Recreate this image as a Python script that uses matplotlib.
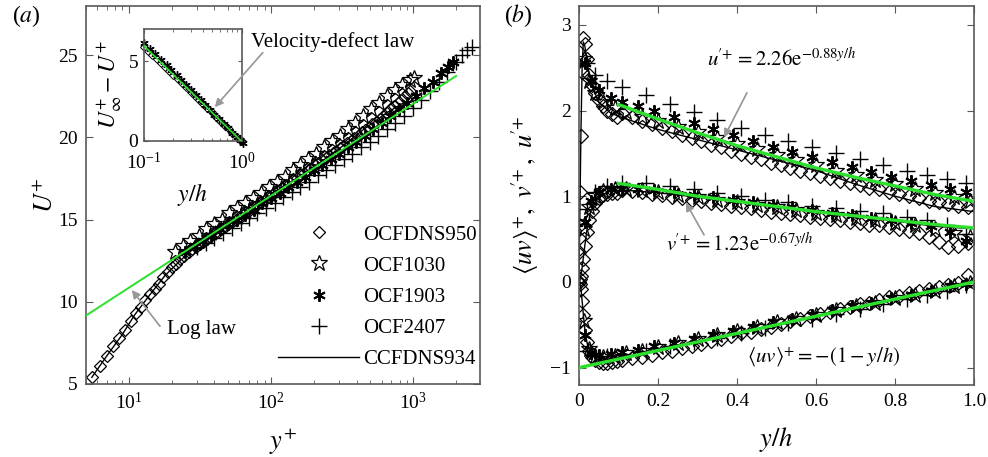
import numpy as np
import matplotlib.pyplot as plt
from matplotlib.ticker import NullFormatter

plt.rcParams['font.family'] = ['Liberation Serif', 'DejaVu Serif']
plt.rcParams['mathtext.fontset'] = 'stix'
plt.rcParams['axes.linewidth'] = 1.2
plt.rcParams['axes.edgecolor'] = '0.35'
plt.rcParams['xtick.direction'] = 'in'
plt.rcParams['ytick.direction'] = 'in'
plt.rcParams['xtick.top'] = True
plt.rcParams['ytick.right'] = True
plt.rcParams['xtick.color'] = '0.35'
plt.rcParams['ytick.color'] = '0.35'
plt.rcParams['xtick.labelcolor'] = 'k'
plt.rcParams['ytick.labelcolor'] = 'k'

GREEN = '#2ee02e'

# ---------------- (a) mean velocity U+ vs y+ ----------------
dns950_yp = [5.5, 6.3, 7.0, 7.8, 8.6, 9.4, 10.3, 11.2, 12.1, 13.1, 14.1, 15.2, 16.3, 17.5,
             18.8, 20.1, 21.5, 23, 24.6, 26.3,
             28, 29.7, 31.5, 33.4, 35.4, 37.5, 39.8, 42.2, 44.7, 47.4, 50.2, 53.2, 56.4,
             59.8, 63.4, 67.2, 71.2, 75.5, 80, 85, 90, 95, 101, 107, 113, 120, 127, 135,
             143, 152, 161, 170, 181, 191, 203, 215, 228, 242, 256, 272, 288, 305, 323,
             343, 363, 385, 408, 433, 459, 486, 515, 546, 579, 614, 651, 690, 731, 775,
             822, 871, 923, 950]
dns950_U = [5.4, 6.1, 6.7, 7.3, 7.8, 8.3, 8.8, 9.3, 9.7, 10.1, 10.5, 10.8, 11.1, 11.5,
            11.8, 12.1, 12.3, 12.6, 12.8, 13.0,
            13.2, 13.35, 13.5, 13.65, 13.8, 13.95, 14.1, 14.25, 14.4, 14.55, 14.7, 14.85,
            15.0, 15.15, 15.3, 15.45, 15.6, 15.75, 15.9, 16.05, 16.2, 16.35, 16.5, 16.65,
            16.8, 16.95, 17.1, 17.25, 17.4, 17.55, 17.7, 17.85, 18.0, 18.15, 18.3, 18.45,
            18.6, 18.75, 18.9, 19.05, 19.2, 19.35, 19.5, 19.65, 19.8, 19.95, 20.1, 20.3,
            20.45, 20.6, 20.8, 20.95, 21.15, 21.3, 21.5, 21.7, 21.9, 22.1, 22.3, 22.5,
            22.7, 22.8]

ocf1030_yp = [21, 24, 27, 31, 35, 40, 45, 51, 58, 66, 75, 85, 97, 110, 125, 142, 161, 183,
              208, 236, 268, 304, 345, 392, 445, 505, 573, 650, 738, 838, 950, 1010]
ocf1030_U = [13.0, 13.4, 13.7, 14.0, 14.4, 14.7, 15.0, 15.4, 15.7, 16.0, 16.3, 16.6, 17.0,
             17.3, 17.6, 18.0, 18.3, 18.7, 19.0, 19.4, 19.8, 20.1, 20.5, 20.9, 21.3, 21.7,
             22.1, 22.5, 22.9, 23.2, 23.5, 23.6]

ocf1903_yp = [25, 29, 33, 38, 44, 50, 58, 66, 76, 87, 100, 115, 132, 151, 174, 199, 229,
              263, 302, 346, 397, 456, 523, 600, 689, 790, 907, 1040, 1194, 1370, 1572,
              1750, 1900]
ocf1903_U = [13.0, 13.4, 13.7, 14.0, 14.4, 14.7, 15.0, 15.3, 15.6, 16.0, 16.3, 16.6, 17.0,
             17.3, 17.6, 18.0, 18.3, 18.7, 19.0, 19.4, 19.7, 20.1, 20.5, 20.9, 21.3, 21.7,
             22.1, 22.5, 23.0, 23.4, 23.9, 24.3, 24.6]

ocf2407_yp = [30, 35, 40, 46, 53, 61, 70, 80, 92, 106, 122, 140, 161, 185, 213, 245, 282,
              324, 372, 428, 492, 566, 651, 748, 860, 990, 1138, 1308, 1505, 1730, 1990,
              2200, 2400, 2600]
ocf2407_U = [13.3, 13.6, 13.9, 14.2, 14.5, 14.8, 15.1, 15.4, 15.7, 16.0, 16.4, 16.7, 17.0,
             17.3, 17.7, 18.0, 18.3, 18.7, 19.0, 19.4, 19.7, 20.1, 20.5, 20.9, 21.3, 21.8,
             22.3, 22.8, 23.4, 24.0, 24.6, 25.0, 25.3, 25.5]

ccf934_yp = [5.5, 7, 9, 11, 14, 18, 23, 30, 40, 55, 75, 100, 150, 200, 300, 450, 650, 934]
ccf934_U = [5.4, 6.7, 8.0, 9.2, 10.4, 11.6, 12.5, 13.4, 14.2, 15.0, 15.8, 16.5, 17.5, 18.2,
            19.3, 20.5, 21.5, 22.3]

loglaw_yp = [5.0, 2000]
loglaw_U = [9.16, 23.74]

# inset: velocity-defect
inset_dns_yh = [0.1, 0.11, 0.12, 0.135, 0.15, 0.165, 0.18, 0.2, 0.22, 0.245, 0.27, 0.3,
                0.33, 0.365, 0.4, 0.44, 0.49, 0.54, 0.6, 0.66, 0.73, 0.8, 0.88, 0.96, 1.0]
inset_dns_def = [5.9, 5.65, 5.4, 5.1, 4.85, 4.6, 4.35, 4.1, 3.85, 3.6, 3.35, 3.05, 2.8,
                 2.55, 2.3, 2.05, 1.8, 1.5, 1.25, 1.0, 0.75, 0.5, 0.25, 0.05, 0.0]
inset_exp_yh = [0.1, 0.115, 0.13, 0.15, 0.17, 0.19, 0.215, 0.24, 0.27, 0.3, 0.34, 0.38,
                0.42, 0.47, 0.52, 0.58, 0.65, 0.72, 0.8, 0.88, 0.95, 1.02]
inset_exp_def = [6.1, 5.75, 5.45, 5.05, 4.75, 4.45, 4.1, 3.8, 3.5, 3.2, 2.85, 2.55, 2.25,
                 1.95, 1.65, 1.35, 1.05, 0.8, 0.5, 0.25, 0.05, -0.1]
defect_yh = [0.1, 1.0]
defect_law = [5.95, -0.05]

# ---------------- (b) turbulence intensities ----------------
dns_yh = [0.001, 0.003, 0.005, 0.008, 0.011, 0.015, 0.02, 0.026, 0.033, 0.041, 0.05, 0.06,
          0.071, 0.083, 0.096, 0.11, 0.135, 0.16, 0.185, 0.21, 0.235, 0.26, 0.285, 0.31,
          0.335, 0.36, 0.385, 0.41, 0.435, 0.46, 0.485, 0.51, 0.535, 0.56, 0.585, 0.61,
          0.635, 0.66, 0.685, 0.71, 0.735, 0.76, 0.785, 0.81, 0.835, 0.86, 0.885, 0.91,
          0.935, 0.96, 0.985]
dns_u = [0.35, 1.05, 1.7, 2.45, 2.85, 2.78, 2.6, 2.42, 2.3, 2.2, 2.12, 2.05, 2.0, 1.96,
         1.92, 1.97, 1.92, 1.88, 1.84, 1.80, 1.76, 1.72, 1.68, 1.64, 1.60, 1.57, 1.53, 1.49,
         1.46, 1.43, 1.39, 1.36, 1.33, 1.30, 1.27, 1.24, 1.21, 1.18, 1.16, 1.13, 1.10, 1.08,
         1.05, 1.03, 1.00, 0.98, 0.95, 0.93, 0.91, 0.89, 0.88]
dns_v = [0.0, 0.03, 0.07, 0.16, 0.27, 0.42, 0.58, 0.72, 0.83, 0.92, 0.98, 1.01, 1.03, 1.04,
         1.04, 1.07, 1.06, 1.05, 1.03, 1.01, 0.99, 0.98, 0.96, 0.94, 0.92, 0.91, 0.89, 0.87,
         0.86, 0.84, 0.82, 0.81, 0.79, 0.78, 0.76, 0.75, 0.73, 0.72, 0.70, 0.69, 0.67, 0.66,
         0.64, 0.62, 0.60, 0.57, 0.53, 0.47, 0.41, 0.42, 0.46]
dns_uv = [0.0, -0.02, -0.08, -0.22, -0.38, -0.56, -0.70, -0.80, -0.87, -0.91, -0.93, -0.94,
          -0.94, -0.93, -0.92, -0.91, -0.89, -0.87, -0.85, -0.82, -0.80, -0.77, -0.75, -0.72,
          -0.69, -0.66, -0.63, -0.60, -0.58, -0.55, -0.52, -0.49, -0.46, -0.43, -0.40, -0.37,
          -0.35, -0.32, -0.29, -0.26, -0.24, -0.21, -0.18, -0.16, -0.13, -0.11, -0.08, -0.06,
          -0.04, -0.01, 0.08]

o1030_yh = [0.012, 0.025, 0.04, 0.06, 0.09, 0.12, 0.16, 0.2, 0.25, 0.3, 0.35, 0.4, 0.45,
            0.5, 0.55, 0.6, 0.65, 0.7, 0.75, 0.8, 0.85, 0.9, 0.95, 0.99]
o1030_u = [2.6, 2.35, 2.2, 2.1, 2.03, 1.98, 1.93, 1.88, 1.81, 1.75, 1.68, 1.61, 1.55, 1.48,
           1.42, 1.36, 1.30, 1.25, 1.19, 1.14, 1.09, 1.04, 0.99, 0.95]
o1030_v = [0.62, 0.88, 1.0, 1.06, 1.08, 1.08, 1.07, 1.05, 1.02, 0.99, 0.96, 0.93, 0.90, 0.87,
           0.84, 0.81, 0.78, 0.75, 0.72, 0.69, 0.66, 0.62, 0.57, 0.52]
o1030_uv = [-0.45, -0.78, -0.87, -0.88, -0.86, -0.83, -0.80, -0.76, -0.71, -0.67, -0.62,
            -0.57, -0.52, -0.47, -0.43, -0.38, -0.33, -0.28, -0.24, -0.19, -0.15, -0.10,
            -0.05, -0.01]

o1903_yh = [0.015, 0.03, 0.05, 0.08, 0.11, 0.15, 0.19, 0.24, 0.29, 0.34, 0.39, 0.44, 0.49,
            0.54, 0.59, 0.64, 0.69, 0.74, 0.79, 0.84, 0.89, 0.94, 0.98]
o1903_u = [2.55, 2.35, 2.24, 2.15, 2.10, 2.05, 2.00, 1.93, 1.86, 1.79, 1.72, 1.65, 1.58,
           1.52, 1.46, 1.40, 1.34, 1.28, 1.23, 1.18, 1.13, 1.08, 1.05]
o1903_v = [0.7, 0.95, 1.05, 1.08, 1.09, 1.09, 1.07, 1.05, 1.02, 0.99, 0.96, 0.93, 0.90, 0.87,
           0.84, 0.81, 0.78, 0.75, 0.72, 0.69, 0.65, 0.58, 0.48]
o1903_uv = [-0.62, -0.83, -0.85, -0.84, -0.82, -0.79, -0.75, -0.71, -0.66, -0.62, -0.57,
            -0.52, -0.47, -0.43, -0.38, -0.33, -0.28, -0.24, -0.19, -0.15, -0.10, -0.05, -0.02]

o2407_yh = [0.02, 0.04, 0.07, 0.11, 0.17, 0.23, 0.29, 0.35, 0.41, 0.47, 0.53, 0.59, 0.65,
            0.71, 0.77, 0.83, 0.88, 0.93, 0.98]
o2407_u = [2.55, 2.42, 2.34, 2.28, 2.18, 2.08, 1.98, 1.89, 1.80, 1.72, 1.64, 1.57, 1.50,
           1.43, 1.37, 1.30, 1.25, 1.20, 1.16]
o2407_v = [0.85, 1.05, 1.12, 1.16, 1.15, 1.12, 1.08, 1.04, 1.00, 0.96, 0.93, 0.89, 0.86,
           0.83, 0.80, 0.76, 0.72, 0.66, 0.56]
o2407_uv = [-0.8, -0.86, -0.86, -0.84, -0.80, -0.75, -0.70, -0.65, -0.59, -0.54, -0.48,
            -0.43, -0.37, -0.31, -0.26, -0.20, -0.15, -0.10, -0.04]

ccf_yh = [0, 0.002, 0.005, 0.008, 0.011, 0.015, 0.02, 0.03, 0.05, 0.08, 0.12, 0.2, 0.3, 0.4,
          0.5, 0.6, 0.7, 0.8, 0.9, 1.0]
ccf_u = [0, 0.7, 1.75, 2.5, 2.8, 2.75, 2.58, 2.32, 2.1, 1.97, 1.9, 1.78, 1.66, 1.54, 1.42,
         1.30, 1.14, 1.0, 0.88, 0.82]
ccf_v = [0, 0.01, 0.07, 0.17, 0.28, 0.43, 0.6, 0.83, 1.0, 1.06, 1.07, 1.04, 0.99, 0.94,
         0.88, 0.82, 0.77, 0.71, 0.65, 0.62]
ccf_uv = [0, -0.01, -0.08, -0.22, -0.38, -0.56, -0.70, -0.84, -0.92, -0.9, -0.87, -0.79,
          -0.7, -0.6, -0.5, -0.4, -0.3, -0.2, -0.1, 0.0]

fit_yh = [0.1, 0.2, 0.3, 0.4, 0.5, 0.6, 0.7, 0.8, 0.9, 1.0]
fit_u = [2.07, 1.90, 1.74, 1.59, 1.46, 1.33, 1.22, 1.12, 1.02, 0.94]
fit_v = [1.15, 1.08, 1.00, 0.94, 0.88, 0.82, 0.77, 0.72, 0.67, 0.63]
fit_uv_yh = [0.0, 1.0]
fit_uv = [-1.0, 0.0]

# marker styles for the five data sets
st_dns = dict(ls='none', marker='D', ms=6.5, mfc='none', mec='k', mew=0.9)
st_1030 = dict(ls='none', marker='*', ms=12, mfc='none', mec='k', mew=0.9)
st_1903 = dict(ls='none', marker=(6, 2, 0), ms=9, mec='k', mew=1.4)
st_2407 = dict(ls='none', marker='+', ms=12, mec='k', mew=1.0)
st_ccf = dict(color='k', lw=1.0)

fig = plt.figure(figsize=(9.88, 4.57), dpi=100)
axa = fig.add_axes([0.087, 0.160, 0.399, 0.827])
axb = fig.add_axes([0.586, 0.158, 0.400, 0.829])

# ---- panel (a)
axa.plot(dns950_yp, dns950_U, label='OCFDNS950', **st_dns)
axa.plot(ocf1030_yp, ocf1030_U, label='OCF1030', **st_1030)
axa.plot(ocf1903_yp, ocf1903_U, label='OCF1903', **st_1903)
axa.plot(ocf2407_yp, ocf2407_U, label='OCF2407', **st_2407)
axa.plot(ccf934_yp, ccf934_U, label='CCFDNS934', **st_ccf)
axa.plot(loglaw_yp, loglaw_U, color=GREEN, lw=1.4, zorder=5)
axa.set_xscale('log')
axa.set_xlim(5.0, 2950)
axa.set_ylim(5, 28)
axa.set_yticks([5, 10, 15, 20, 25])
axa.tick_params(labelsize=14, length=5, pad=6)
axa.tick_params(which='minor', length=3)
axa.set_xlabel(r'$y^{+}$', fontsize=19)
axa.set_ylabel(r'$U^{+}$', fontsize=19)
axa.xaxis.set_label_coords(0.5, -0.115)
axa.yaxis.set_label_coords(-0.07, 0.5)
axa.legend(loc='upper left', bbox_to_anchor=(0.487, 0.42), frameon=False, fontsize=15,
           handlelength=3.9, handletextpad=0.2, labelspacing=0.55, borderpad=0,
           borderaxespad=0)

# inset
axi = fig.add_axes([0.1457, 0.6915, 0.0992, 0.245])
axi.plot(inset_dns_yh, inset_dns_def, ls='none', marker='D', ms=4, mfc='none', mec='k',
         mew=0.7, clip_on=False)
axi.plot(inset_exp_yh, inset_exp_def, ls='none', marker=(6, 2, 0), ms=6, mec='k', mew=1.0,
         clip_on=False)
axi.plot(defect_yh, defect_law, color=GREEN, lw=1.2, zorder=5)
axi.set_xscale('log')
axi.set_xlim(0.1, 1.0)
axi.set_ylim(0, 7)
axi.set_yticks([0, 5])
axi.xaxis.set_minor_formatter(NullFormatter())
axi.tick_params(labelsize=14, length=3, pad=4)
axi.tick_params(axis='x', pad=8)
axi.tick_params(which='minor', length=2)
axi.set_xlabel(r'$y/h$', fontsize=17)
axi.set_ylabel(r'$U_{\infty}^{+} - U^{+}$', fontsize=17)
axi.xaxis.set_label_coords(0.5, -0.36)
axi.yaxis.set_label_coords(-0.2, 0.5)

# ---- panel (b)
st_dns_b = dict(st_dns, ms=7.5)
for p in (dns_u, dns_v, dns_uv):
    axb.plot(dns_yh, p, **st_dns_b)
for p in (o1030_u, o1030_v, o1030_uv):
    axb.plot(o1030_yh, p, **st_1030)
for p in (o1903_u, o1903_v, o1903_uv):
    axb.plot(o1903_yh, p, **st_1903)
for p in (o2407_u, o2407_v, o2407_uv):
    axb.plot(o2407_yh, p, **st_2407)
for p in (ccf_u, ccf_v, ccf_uv):
    axb.plot(ccf_yh, p, **st_ccf)
axb.plot(fit_yh, fit_u, color=GREEN, lw=2.4, zorder=5)
axb.plot(fit_yh, fit_v, color=GREEN, lw=2.4, zorder=5)
axb.plot(fit_uv_yh, fit_uv, color=GREEN, lw=2.4, zorder=5)
axb.set_xlim(0, 1)
axb.set_ylim(-1.2, 3.22)
axb.set_xticks([0, 0.2, 0.4, 0.6, 0.8, 1.0])
axb.set_xticklabels(['0', '0.2', '0.4', '0.6', '0.8', '1.0'])
axb.set_yticks([-1, 0, 1, 2, 3])
axb.tick_params(labelsize=14, length=5, pad=6)
axb.set_xlabel(r'$y/h$', fontsize=19)
axb.set_ylabel(r"$\langle uv\rangle^{+},\ v^{\!\prime\!+},\ u^{\!\prime\!+}$", fontsize=19)
axb.xaxis.set_label_coords(0.5, -0.105)
axb.yaxis.set_label_coords(-0.095, 0.5)

axb.text(0.324, 2.59, r"$u^{\!\prime\!+} = 2.26\mathrm{e}^{-0.88y/h}$", fontsize=15,
         ha='left', va='center')
axb.text(0.22, 0.435, r"$v^{\!\prime\!+} = 1.23\mathrm{e}^{-0.67y/h}$", fontsize=15,
         ha='left', va='center')
axb.text(0.425, -0.88, r'$\langle uv\rangle^{+} = -(1 - y/h)$', fontsize=15,
         ha='left', va='center')

arrow = dict(arrowstyle='-|>', color='0.6', lw=1.0, mutation_scale=12, shrinkA=0, shrinkB=0)
fig.text(0.254, 0.908, 'Velocity-defect law', fontsize=15, ha='left', va='center')
fig.text(0.169, 0.278, 'Log law', fontsize=15, ha='left', va='center')
for tail, head in (((0.266, 0.885), (0.2176, 0.766)),
                   ((0.162, 0.286), (0.1336, 0.365)),
                   ((0.756, 0.797), (0.733, 0.700)),
                   ((0.7126, 0.486), (0.6943, 0.556))):
    fig.add_artist(plt.annotate('', xy=head, xytext=tail, xycoords='figure fraction',
                                textcoords='figure fraction', arrowprops=arrow))

fig.text(0.012, 0.965, r'($a$)', fontsize=17, ha='left', va='center')
fig.text(0.51, 0.965, r'($b$)', fontsize=17, ha='left', va='center')

fig.savefig('out.png', dpi=100)
